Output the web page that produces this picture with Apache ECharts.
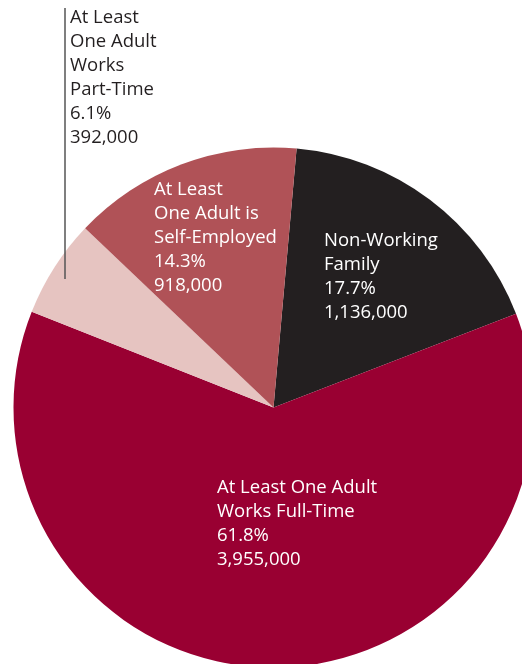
<!DOCTYPE html>
<html>
<head>
<meta charset="utf-8">
<style>
  html, body { margin: 0; padding: 0; background: #ffffff; }
  #chart { width: 522px; height: 664px; }
</style>
<script src="https://cdn.jsdelivr.net/npm/echarts@6/dist/echarts.min.js"></script>
</head>
<body>
<div id="chart"></div>
<script>
// Families by work status (clockwise from the top)
const categories = [
  'Non-Working\nFamily',
  'At Least One Adult\nWorks Full-Time',
  'At Least\nOne Adult\nWorks\nPart-Time',
  'At Least\nOne Adult is\nSelf-Employed'
];
const families = [1136000, 3955000, 392000, 918000];
const shares = [17.7, 61.8, 6.1, 14.3];

const sliceColors = ['#231f20', '#990032', '#e6c4c1', '#b05257'];
const labelColors = ['#ffffff', '#ffffff', '#231f20', '#ffffff'];
// top-left corner of each label block
const labelSpots = [[324, 229], [217, 476], [70, 6], [154, 178]];

const chart = echarts.init(document.getElementById('chart'), null, { renderer: 'canvas' });

const data = categories.map((name, i) => ({
  name: name,
  value: shares[i],
  itemStyle: { color: sliceColors[i] },
  label: { color: labelColors[i] }
}));

chart.setOption({
  animation: false,
  backgroundColor: '#ffffff',
  series: [{
    type: 'pie',
    center: [273.5, 407.5],
    radius: 260,
    startAngle: 84.9,
    clockwise: true,
    avoidLabelOverlap: false,
    data: data,
    itemStyle: { borderWidth: 0 },
    emphasis: { disabled: true },
    label: {
      show: true,
      position: 'inside',
      fontFamily: 'Open Sans',
      fontSize: 18.5,
      lineHeight: 24,
      align: 'left',
      formatter: function (p) {
        return p.name + '\n' + shares[p.dataIndex].toFixed(1) + '%\n' +
          families[p.dataIndex].toLocaleString('en-US');
      }
    },
    labelLine: { show: false },
    labelLayout: function (p) {
      const s = labelSpots[p.dataIndex];
      return { x: s[0], y: s[1], align: 'left', verticalAlign: 'top' };
    }
  }],
  graphic: [{
    type: 'line',
    shape: { x1: 65, y1: 8, x2: 65, y2: 279 },
    style: { stroke: '#555555', lineWidth: 1.5 },
    z: 10
  }]
});
</script>
</body>
</html>
